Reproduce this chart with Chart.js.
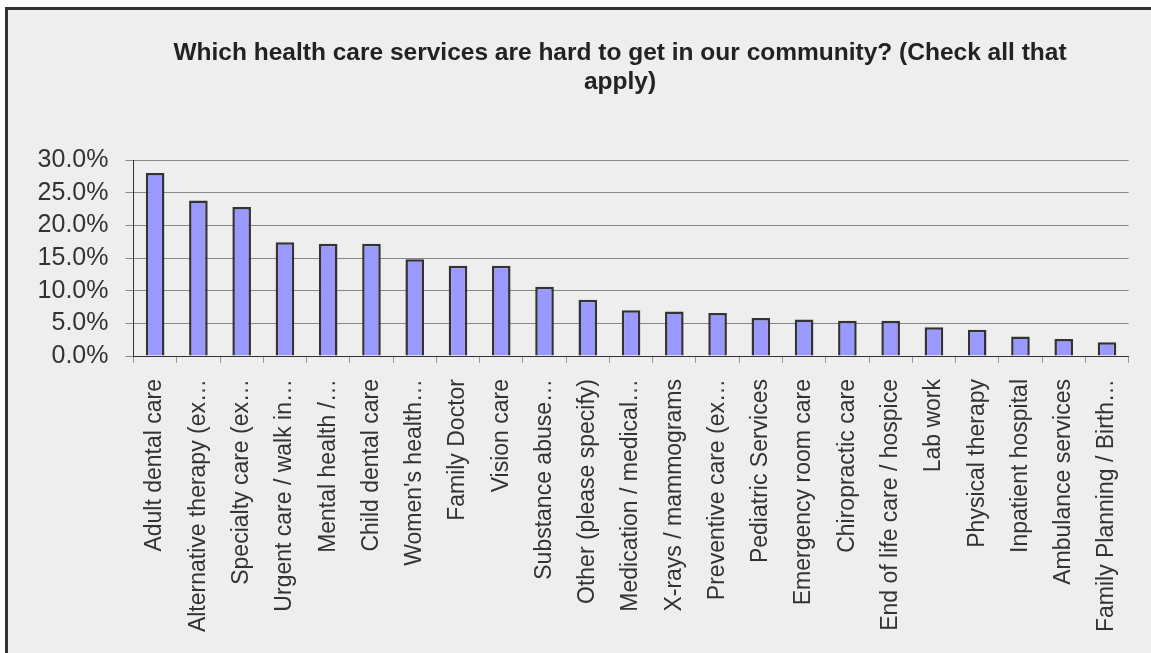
<!DOCTYPE html>
<html>
<head>
<meta charset="utf-8">
<script src="https://cdn.jsdelivr.net/npm/chart.js@4/dist/chart.umd.min.js"></script>
<style>
  body { margin: 0; background: #fff; }
  #wrap {
    position: absolute; left: 5px; top: 7px;
    width: 1143px; height: 643px;
    border-left: 3px solid #333; border-top: 3px solid #333;
    background: #eeeeee;
  }
</style>
</head>
<body>
<div id="wrap"><canvas id="myChart" width="1143" height="643"></canvas></div>
<script>
// survey answers, share of respondents
const categories = [
  "Adult dental care", "Alternative therapy (ex…", "Specialty care (ex…",
  "Urgent care / walk in…", "Mental health /…", "Child dental care",
  "Women's health…", "Family Doctor", "Vision care", "Substance abuse…",
  "Other (please specify)", "Medication / medical…", "X-rays / mammograms",
  "Preventive care (ex…", "Pediatric Services", "Emergency room care",
  "Chiropractic care", "End of life care / hospice", "Lab work",
  "Physical therapy", "Inpatient hospital", "Ambulance services",
  "Family Planning / Birth…"
];
const percentValues = [
  28.0, 23.8, 22.8, 17.4, 17.2, 17.2, 14.8, 13.8, 13.8, 10.6, 8.6, 7.0,
  6.8, 6.6, 5.8, 5.6, 5.4, 5.4, 4.4, 4.0, 3.0, 2.6, 2.1
];
const yTicks = [0, 5, 10, 15, 20, 25, 30];
const titleLines = [
  "Which health care services are hard to get in our community? (Check all that",
  "apply)"
];

const FONT = "'Liberation Sans', Arial, sans-serif";

const titlePlugin = {
  id: "titleText",
  afterDraw(chart) {
    const ctx = chart.ctx;
    ctx.save();
    ctx.font = "bold 24.5px " + FONT;
    ctx.fillStyle = "#222";
    ctx.textAlign = "center";
    ctx.textBaseline = "alphabetic";
    titleLines.forEach((line, i) => ctx.fillText(line, 612, 50 + i * 29));
    ctx.restore();
  }
};

new Chart(document.getElementById("myChart").getContext("2d"), {
  type: "bar",
  data: {
    labels: categories,
    datasets: [{
      data: percentValues,
      backgroundColor: "#9999ff",
      borderColor: "#333333",
      borderWidth: 2.5,
      categoryPercentage: 1,
      barPercentage: 0.43
    }]
  },
  options: {
    responsive: false,
    animation: false,
    layout: { padding: { top: 150, right: 19, left: 0, bottom: 0 } },
    plugins: { legend: { display: false }, tooltip: { enabled: false }, title: { display: false } },
    scales: {
      x: {
        afterFit(scale) { scale.height = 297; },
        grid: { drawOnChartArea: false, tickLength: 7, color: "#999" },
        border: { color: "#333", width: 1 },
        ticks: {
          maxRotation: 90, minRotation: 90, autoSkip: false, padding: 16,
          color: "#333", font: { family: FONT, size: 23 }
        }
      },
      y: {
        min: 0, max: 30,
        afterFit(scale) { scale.width = 125.5; },
        afterBuildTicks(scale) { scale.ticks = yTicks.map(v => ({ value: v })); },
        grid: { color: "#888", tickLength: 8 },
        border: { color: "#333", width: 1 },
        ticks: {
          autoSkip: false, padding: 17, color: "#333", font: { family: FONT, size: 25 },
          callback: v => v.toFixed(1) + "%"
        }
      }
    }
  },
  plugins: [titlePlugin]
});
</script>
</body>
</html>
